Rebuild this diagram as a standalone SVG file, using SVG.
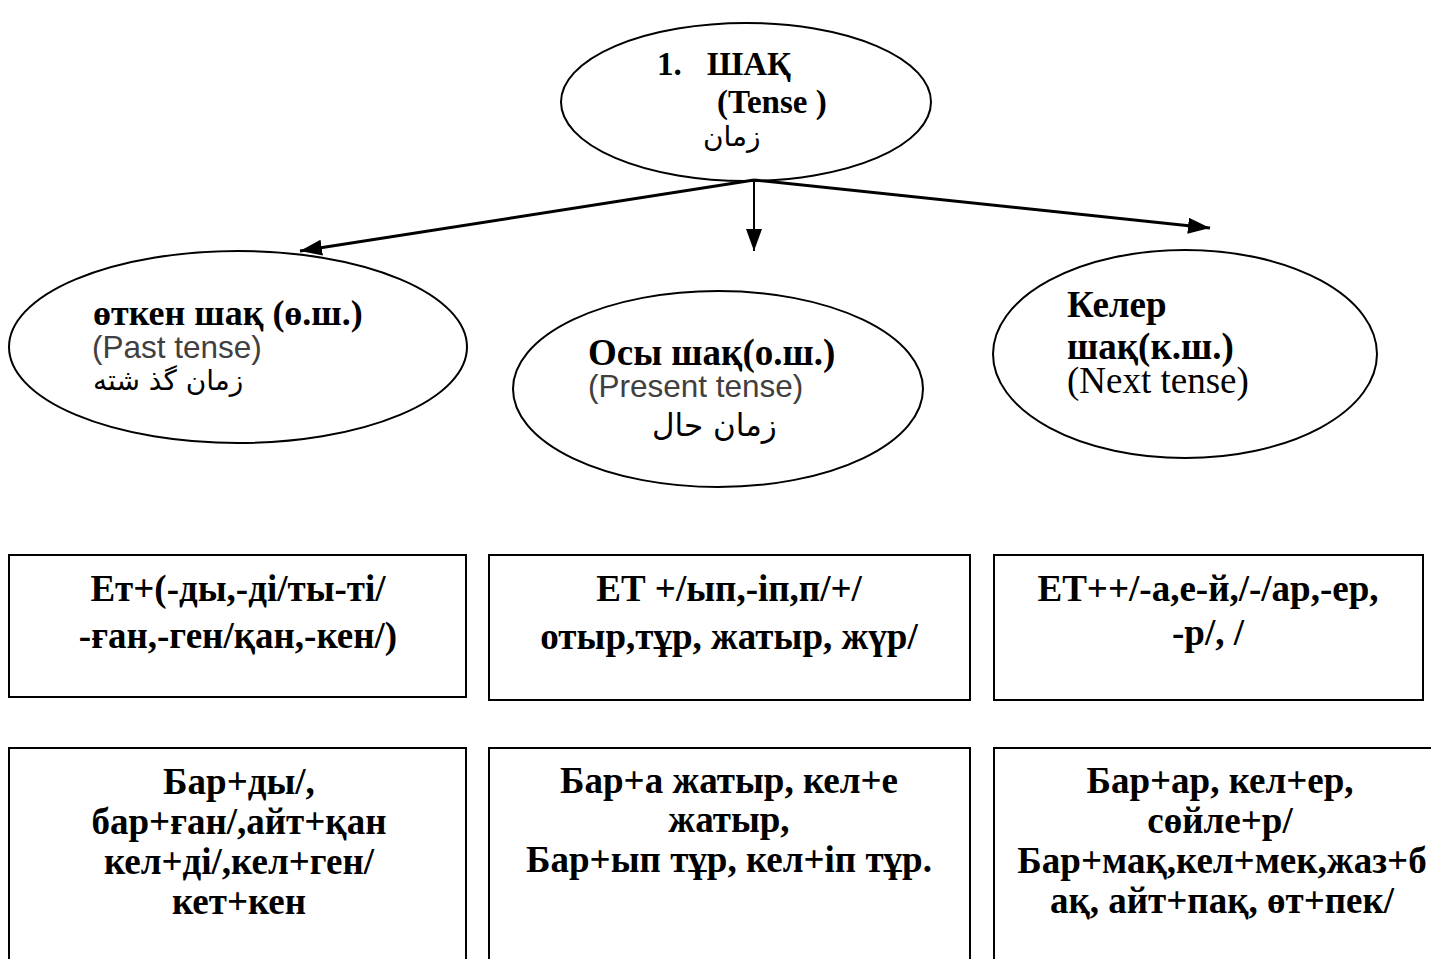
<svg xmlns="http://www.w3.org/2000/svg" width="1431" height="959" viewBox="0 0 1431 959">
<defs>
<marker id="ah" viewBox="0 0 22 16" refX="22" refY="8" markerWidth="22" markerHeight="16" markerUnits="userSpaceOnUse" orient="auto">
<path d="M0,0 L22,8 L0,16 z" fill="#000"/>
</marker>
<style>
.sh{fill:#fff;stroke:#000;stroke-width:2}
.b{font-family:"Liberation Serif","Times New Roman",serif;font-weight:bold;font-size:37px;fill:#000}
.bc{font-family:"Liberation Serif","Times New Roman",serif;font-weight:bold;font-size:37px;fill:#000;text-anchor:middle}
.en{font-family:"Liberation Sans",Arial,sans-serif;font-size:31.5px;fill:#404040}
.tr{font-family:"Liberation Serif","Times New Roman",serif;font-size:37px;fill:#000}
.ar{font-family:"DejaVu Sans","Noto Sans",sans-serif;font-size:28px;fill:#000}
.ln{stroke:#000;stroke-width:3;fill:none}
</style>
</defs>
<rect width="1431" height="959" fill="#fff"/>

<g id="root">
<ellipse class="sh" cx="746" cy="102" rx="185" ry="79"/>
<text class="b" x="657" y="75" style="font-size:33px">1.</text>
<text class="b" x="707" y="75" style="font-size:33px">ШАҚ</text>
<text class="b" x="717" y="113" style="font-size:33px">(Tense )</text>
<text class="ar" x="703" y="146">زمان</text>
</g>

<g id="connectors">
<line class="ln" x1="754" y1="180" x2="300" y2="251" marker-end="url(#ah)"/>
<line class="ln" x1="754" y1="180" x2="754" y2="251" style="stroke-width:2" marker-end="url(#ah)"/>
<line class="ln" x1="754" y1="180" x2="1210" y2="228" marker-end="url(#ah)"/>
</g>

<g id="past">
<ellipse class="sh" cx="238" cy="347" rx="229" ry="96"/>
<text class="b" x="93" y="325" style="font-size:36px">өткен шақ (ө.ш.)</text>
<text class="en" x="92" y="358">(Past tense)</text>
<text class="ar" x="93" y="390">زمان گذ شته</text>
</g>

<g id="present">
<ellipse class="sh" cx="718" cy="389" rx="205" ry="98"/>
<text class="b" x="588" y="365">Осы шақ(о.ш.)</text>
<text class="en" x="588" y="397">(Present tense)</text>
<text class="ar" x="652" y="436" style="font-size:31px">زمان حال</text>
</g>

<g id="future">
<ellipse class="sh" cx="1185" cy="354" rx="192" ry="104"/>
<text class="b" x="1067" y="317">Келер</text>
<text class="b" x="1067" y="359">шақ(к.ш.)</text>
<text class="tr" x="1067" y="393">(Next tense)</text>
</g>

<g id="past-suffix">
<rect class="sh" x="9" y="555" width="457" height="142"/>
<text class="bc" x="238" y="601">Ет+(-ды,-ді/ты-ті/</text>
<text class="bc" x="238" y="648">-ған,-ген/қан,-кен/)</text>
</g>

<g id="present-suffix">
<rect class="sh" x="489" y="555" width="481" height="145"/>
<text class="bc" x="729" y="601">ЕТ +/ып,-іп,п/+/</text>
<text class="bc" x="729" y="649">отыр,тұр, жатыр, жүр/</text>
</g>

<g id="future-suffix">
<rect class="sh" x="994" y="555" width="429" height="145"/>
<text class="bc" x="1208" y="601">ЕТ++/-а,е-й,/-/ар,-ер,</text>
<text class="bc" x="1208" y="645">-р/, /</text>
</g>

<g id="past-examples">
<rect class="sh" x="9" y="748" width="457" height="230"/>
<text class="bc" x="239" y="794">Бар+ды/,</text>
<text class="bc" x="239" y="834">бар+ған/,айт+қан</text>
<text class="bc" x="239" y="874">кел+ді/,кел+ген/</text>
<text class="bc" x="239" y="914">кет+кен</text>
</g>

<g id="present-examples">
<rect class="sh" x="489" y="748" width="481" height="230"/>
<text class="bc" x="729" y="793">Бар+а жатыр, кел+е</text>
<text class="bc" x="729" y="832">жатыр,</text>
<text class="bc" x="729" y="872">Бар+ып тұр, кел+іп тұр.</text>
</g>

<g id="future-examples">
<rect class="sh" x="994" y="748" width="450" height="230"/>
<text class="bc" x="1220" y="793">Бар+ар, кел+ер,</text>
<text class="bc" x="1220" y="833">сөйле+р/</text>
<text class="bc" x="1222" y="873">Бар+мақ,кел+мек,жаз+б</text>
<text class="bc" x="1222" y="913">ақ, айт+пақ, өт+пек/</text>
</g>
</svg>
